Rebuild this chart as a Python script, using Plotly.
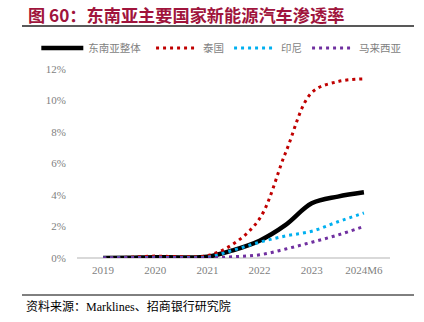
import plotly.graph_objects as go

# Period positions (half-year steps) and tick labels
periods = [0, 0.5, 1, 1.5, 2, 2.5, 3, 3.5, 4, 4.5, 5]
tick_pos = [0, 1, 2, 3, 4, 5]
tick_labels = ["2019", "2020", "2021", "2022", "2023", "2024M6"]

# Penetration rates (%)
sea_total = [0.0, 0.02, 0.05, 0.03, 0.08, 0.5, 1.1, 2.1, 3.47, 3.9, 4.17]
thailand = [0.0, 0.05, 0.12, 0.08, 0.15, 0.9, 2.5, 6.7, 10.5, 11.2, 11.37]
indonesia = [0.0, 0.02, 0.04, 0.03, 0.05, 0.5, 1.0, 1.4, 1.7, 2.3, 2.86]
malaysia = [0.0, 0.01, 0.02, 0.01, 0.0, 0.08, 0.2, 0.57, 1.0, 1.46, 2.0]

names = ["东南亚整体\u2002", "泰国", "印尼", "马来西亚"]
colors = ["#000000", "#C00000", "#00B0F0", "#7030A0"]

fig = go.Figure()
series = [sea_total, thailand, indonesia, malaysia]
for i, (nm, ys, col) in enumerate(zip(names, series, colors)):
    if i == 0:
        line = dict(color=col, width=4.5, shape="spline", smoothing=1.0)
    else:
        line = dict(color=col, width=3, dash="3px,4px", shape="spline", smoothing=1.0)
    fig.add_trace(go.Scatter(x=periods, y=ys, mode="lines", name=nm, line=line))

fig.update_layout(
    width=424, height=322,
    margin=dict(l=77, r=34, t=69, b=64),
    paper_bgcolor="white", plot_bgcolor="white",
    showlegend=True,
    legend=dict(orientation="h", x=-0.13, y=1.035, xanchor="left", yanchor="bottom",
                font=dict(family="Noto Sans CJK SC", size=10.5, color="#7F7F7F"),
                traceorder="normal", itemwidth=42,
                bgcolor="rgba(0,0,0,0)"),
    font=dict(family="Liberation Serif", size=11, color="#7F7F7F"),
)

fig.update_xaxes(range=[-0.5, 5.5], tickvals=tick_pos, ticktext=tick_labels,
                 showgrid=False, zeroline=False, showline=False, ticks="",
                 tickfont=dict(family="Liberation Serif", size=11, color="#7F7F7F"),
                 ticklabelstandoff=4, fixedrange=True)
fig.update_yaxes(range=[0, 12], dtick=2, ticksuffix="%", showgrid=False,
                 zeroline=True, zerolinecolor="#D9D9D9", zerolinewidth=1.5,
                 showline=False, ticks="",
                 tickfont=dict(family="Liberation Serif", size=11, color="#7F7F7F"),
                 ticklabelstandoff=10, fixedrange=True)

# Title, rules and source
fig.add_annotation(text="<b>图 60：东南亚主要国家新能源汽车渗透率</b>", xref="paper", yref="paper",
                   x=(26 - 77) / 313, y=(258 - 15) / 189,
                   xanchor="left", yanchor="middle", showarrow=False,
                   font=dict(family="Noto Sans CJK SC", size=17.2, color="#A0143C"))
fig.add_shape(type="line", xref="paper", yref="paper",
              x0=(22 - 77) / 313, x1=(414 - 77) / 313,
              y0=(258 - 26) / 189, y1=(258 - 26) / 189,
              line=dict(color="#595959", width=2))
fig.add_shape(type="line", xref="paper", yref="paper",
              x0=(22 - 77) / 313, x1=(414 - 77) / 313,
              y0=(258 - 295) / 189, y1=(258 - 295) / 189,
              line=dict(color="#000000", width=1))
fig.add_annotation(text="资料来源：Marklines、招商银行研究院", xref="paper", yref="paper",
                   x=(24 - 77) / 313, y=(258 - 306) / 189,
                   xanchor="left", yanchor="middle", showarrow=False,
                   font=dict(family="Liberation Serif, Noto Sans CJK SC", size=12, color="#000000"))

fig.write_html("out.html")
